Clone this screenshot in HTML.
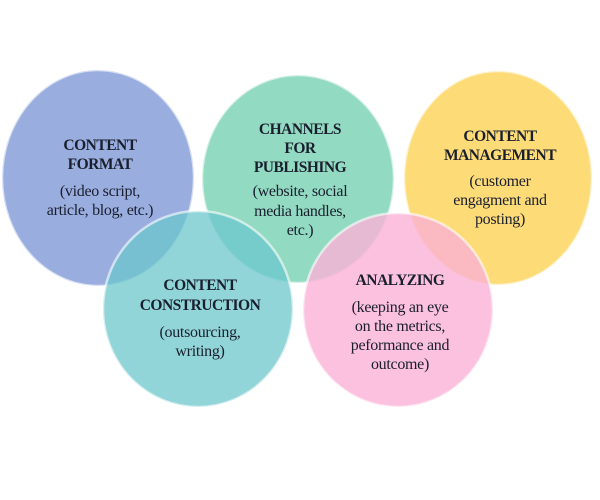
<!DOCTYPE html>
<html><head><meta charset="utf-8"><style>
html,body{margin:0;padding:0;background:#fff;width:600px;height:500px;overflow:hidden}
</style></head><body>
<svg width="600" height="500" viewBox="0 0 600 500" font-family="'Liberation Serif','DejaVu Serif',Times,serif">
<g stroke="#ffffff" stroke-opacity="0.6" stroke-width="2.5">
<ellipse cx="98" cy="178" rx="96" ry="108" fill="#8ea4dc" fill-opacity="0.9"/>
<ellipse cx="298" cy="179" rx="96" ry="104" fill="#7fd3b6" fill-opacity="0.85"/>
<ellipse cx="498" cy="178" rx="94" ry="107" fill="#fdd86a" fill-opacity="0.92"/>
<ellipse cx="198" cy="309" rx="95" ry="98" fill="#6cc7cc" fill-opacity="0.75"/>
<ellipse cx="398" cy="310" rx="95" ry="97" fill="#fab2d6" fill-opacity="0.8"/>
</g>
<g fill="#1a1f2e" text-anchor="middle" font-family="'Liberation Serif','DejaVu Serif',Times,serif">
<g font-size="15.5" font-weight="bold" letter-spacing="-0.5">
<text x="100" y="150">CONTENT</text>
<text x="100" y="169">FORMAT</text>
<text x="300" y="134">CHANNELS</text>
<text x="300" y="153">FOR</text>
<text x="300" y="172">PUBLISHING</text>
<text x="500" y="141">CONTENT</text>
<text x="500" y="160">MANAGEMENT</text>
<text x="200" y="290">CONTENT</text>
<text x="200" y="310">CONSTRUCTION</text>
<text x="400" y="285">ANALYZING</text>
</g>
<g font-size="16" letter-spacing="-0.3">
<text x="100" y="196">(video script,</text>
<text x="100" y="215">article, blog, etc.)</text>
<text x="300" y="196">(website, social</text>
<text x="300" y="216">media handles,</text>
<text x="300" y="235">etc.)</text>
<text x="500" y="186">(customer</text>
<text x="500" y="205">engagment and</text>
<text x="500" y="224">posting)</text>
<text x="200" y="337">(outsourcing,</text>
<text x="200" y="356">writing)</text>
<text x="400" y="312">(keeping an eye</text>
<text x="400" y="331">on the metrics,</text>
<text x="400" y="350">peformance and</text>
<text x="400" y="369">outcome)</text>
</g>
</g>
</svg>
</body></html>
